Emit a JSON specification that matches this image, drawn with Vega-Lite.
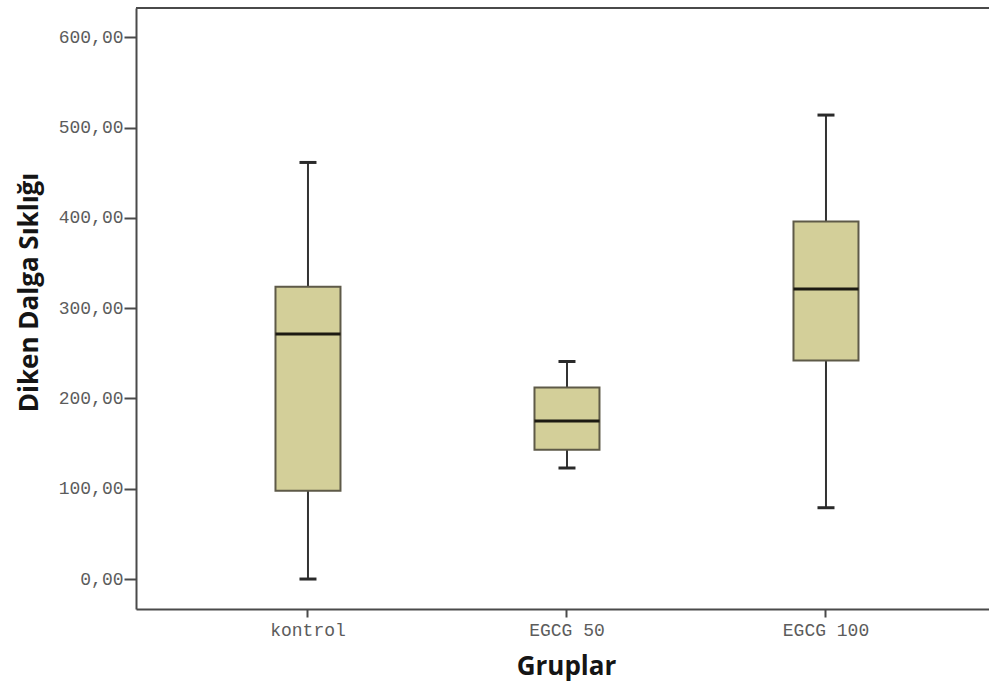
{
  "$schema": "https://vega.github.io/schema/vega-lite/v6.json",
  "autosize": "none",
  "padding": {"left": 136, "top": 8, "right": 0, "bottom": 78},
  "width": 853,
  "height": 601,
  "background": "#ffffff",
  "config": {
    "locale": {
      "number": {"decimal": ",", "thousands": ".", "grouping": [3], "currency": ["", ""]}
    },
    "view": {"stroke": null},
    "axis": {"grid": false}
  },
  "data": {
    "values": [
      {"grup": "kontrol", "min": 0, "q1": 97.8, "median": 271.4, "q3": 323.8, "max": 461.5},
      {"grup": "EGCG 50", "min": 123, "q1": 143.2, "median": 175, "q3": 212.3, "max": 241},
      {"grup": "EGCG 100", "min": 79, "q1": 242.2, "median": 321.3, "q3": 396.2, "max": 514}
    ]
  },
  "layer": [
    {
      "mark": {"type": "rule", "color": "#333333", "strokeWidth": 2},
      "encoding": {
        "x": {
          "field": "grup",
          "type": "nominal",
          "sort": ["kontrol", "EGCG 50", "EGCG 100"],
          "scale": {"paddingInner": 0, "paddingOuter": 0.1467, "align": 0.559},
          "axis": {
            "title": "Gruplar",
            "titleFont": "Open Sans",
            "titleFontWeight": "bold",
            "titleFontSize": 26,
            "titleColor": "#151515",
            "titleBaseline": "middle",
            "titleY": 57,
            "titleX": 430,
            "labelAngle": 0,
            "labelFont": "Liberation Mono",
            "labelFontSize": 18,
            "labelColor": "#5c5c5c",
            "labelPadding": 4,
            "tickColor": "#4a4a4a",
            "tickWidth": 2,
            "tickSize": 8,
            "domain": true,
            "domainColor": "#4a4a4a",
            "domainWidth": 2
          }
        },
        "y": {
          "field": "min",
          "type": "quantitative",
          "scale": {"domain": [-33.2, 632.6], "nice": false, "zero": false},
          "axis": {
            "title": "Diken Dalga Sıklığı",
            "titleFont": "Open Sans",
            "titleFontWeight": "bold",
            "titleFontSize": 26,
            "titleColor": "#151515",
            "titleAngle": -90,
            "titleBaseline": "middle",
            "titleAlign": "center",
            "titleX": -107,
            "titleY": 284,
            "values": [0, 100, 200, 300, 400, 500, 600],
            "format": ".2f",
            "labelFont": "Liberation Mono",
            "labelFontSize": 18,
            "labelColor": "#5c5c5c",
            "labelPadding": 1,
            "tickColor": "#4a4a4a",
            "tickWidth": 2,
            "tickSize": 12,
            "domain": true,
            "domainColor": "#4a4a4a",
            "domainWidth": 2
          }
        },
        "y2": {"field": "max"}
      }
    },
    {
      "mark": {"type": "rule", "color": "#4a4a4a", "strokeWidth": 2},
      "encoding": {"y": {"datum": 632.6, "type": "quantitative"}}
    },
    {
      "mark": {"type": "bar", "size": 65, "fill": "#d3cf99", "stroke": "#5e5a48", "strokeWidth": 2},
      "encoding": {
        "x": {"field": "grup", "type": "nominal", "sort": ["kontrol", "EGCG 50", "EGCG 100"]},
        "y": {"field": "q1", "type": "quantitative"},
        "y2": {"field": "q3"}
      }
    },
    {
      "mark": {"type": "tick", "size": 65, "thickness": 3, "color": "#1c1a12", "opacity": 1},
      "encoding": {
        "x": {"field": "grup", "type": "nominal", "sort": ["kontrol", "EGCG 50", "EGCG 100"]},
        "y": {"field": "median", "type": "quantitative"}
      }
    },
    {
      "mark": {"type": "tick", "size": 17, "thickness": 3, "color": "#2a2a2a", "opacity": 1},
      "encoding": {
        "x": {"field": "grup", "type": "nominal", "sort": ["kontrol", "EGCG 50", "EGCG 100"]},
        "y": {"field": "min", "type": "quantitative"}
      }
    },
    {
      "mark": {"type": "tick", "size": 17, "thickness": 3, "color": "#2a2a2a", "opacity": 1},
      "encoding": {
        "x": {"field": "grup", "type": "nominal", "sort": ["kontrol", "EGCG 50", "EGCG 100"]},
        "y": {"field": "max", "type": "quantitative"}
      }
    }
  ]
}
